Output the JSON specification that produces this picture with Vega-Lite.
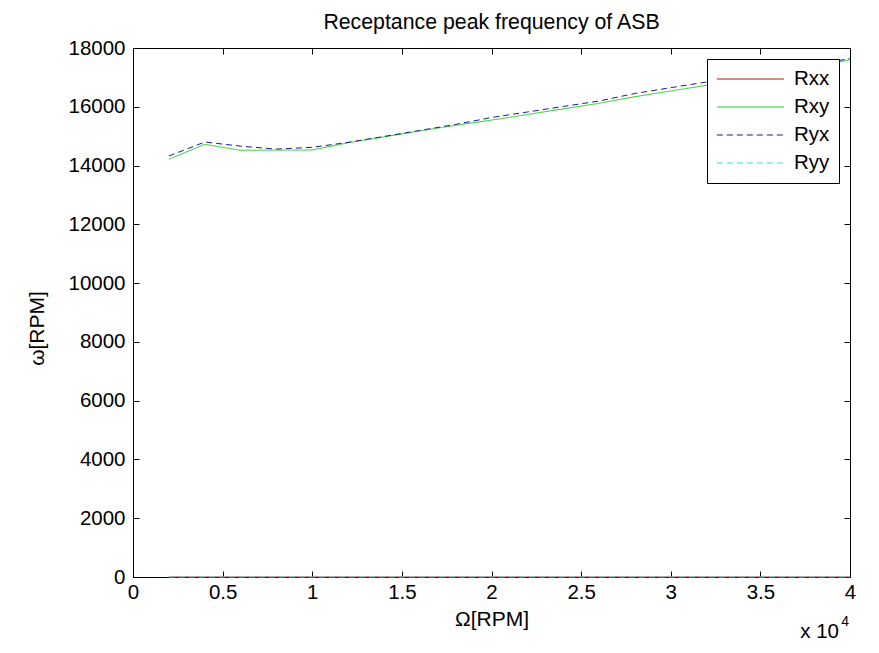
{
  "$schema": "https://vega.github.io/schema/vega-lite/v6.json",
  "width": 717,
  "height": 529,
  "autosize": {"type": "none"},
  "padding": {"left": 133, "top": 48, "right": 29, "bottom": 76},
  "background": "white",
  "title": {"text": "Receptance peak frequency of ASB", "font": "Liberation Sans", "fontSize": 21.3, "fontWeight": "normal", "color": "black", "offset": 5},
  "config": {
    "view": {"stroke": "black", "strokeWidth": 1},
    "axis": {
      "domainColor": "black",
      "tickColor": "black",
      "tickSize": -6,
      "grid": false,
      "labelFont": "Liberation Sans",
      "labelFontSize": 20.5,
      "labelColor": "black",
      "titleFont": "Liberation Sans",
      "titleFontSize": 21,
      "titleFontWeight": "normal",
      "titleColor": "black"
    },
    "legend": {
      "orient": "top-right",
      "offset": 11,
      "strokeColor": "black",
      "fillColor": "white",
      "padding": 9,
      "symbolType": "M-1,0H5.6",
      "symbolSize": 412,
      "symbolStrokeWidth": 1.2,
      "labelFont": "Liberation Sans",
      "labelFontSize": 20.5,
      "labelColor": "black",
      "labelOffset": 56,
      "rowPadding": 6
    }
  },
  "datasets": {
    "curves": [
      {"s": "Rxx", "x": 2000, "y": 0}, {"s": "Rxx", "x": 4000, "y": 0}, {"s": "Rxx", "x": 6000, "y": 0}, {"s": "Rxx", "x": 8000, "y": 0}, {"s": "Rxx", "x": 10000, "y": 0},
      {"s": "Rxx", "x": 12000, "y": 0}, {"s": "Rxx", "x": 14000, "y": 0}, {"s": "Rxx", "x": 16000, "y": 0}, {"s": "Rxx", "x": 18000, "y": 0}, {"s": "Rxx", "x": 20000, "y": 0},
      {"s": "Rxx", "x": 22000, "y": 0}, {"s": "Rxx", "x": 24000, "y": 0}, {"s": "Rxx", "x": 26000, "y": 0}, {"s": "Rxx", "x": 28000, "y": 0}, {"s": "Rxx", "x": 30000, "y": 0},
      {"s": "Rxx", "x": 32000, "y": 0}, {"s": "Rxx", "x": 34000, "y": 0}, {"s": "Rxx", "x": 36000, "y": 0}, {"s": "Rxx", "x": 38000, "y": 0}, {"s": "Rxx", "x": 40000, "y": 0},
      {"s": "Rxy", "x": 2000, "y": 14213}, {"s": "Rxy", "x": 4000, "y": 14723}, {"s": "Rxy", "x": 6000, "y": 14519}, {"s": "Rxy", "x": 8000, "y": 14525}, {"s": "Rxy", "x": 10000, "y": 14529},
      {"s": "Rxy", "x": 12000, "y": 14774}, {"s": "Rxy", "x": 14000, "y": 14975}, {"s": "Rxy", "x": 16000, "y": 15176}, {"s": "Rxy", "x": 18000, "y": 15370}, {"s": "Rxy", "x": 20000, "y": 15547},
      {"s": "Rxy", "x": 22000, "y": 15737}, {"s": "Rxy", "x": 24000, "y": 15928}, {"s": "Rxy", "x": 26000, "y": 16118}, {"s": "Rxy", "x": 28000, "y": 16343}, {"s": "Rxy", "x": 30000, "y": 16537},
      {"s": "Rxy", "x": 32000, "y": 16731}, {"s": "Rxy", "x": 34000, "y": 16930}, {"s": "Rxy", "x": 36000, "y": 17140}, {"s": "Rxy", "x": 38000, "y": 17360}, {"s": "Rxy", "x": 40000, "y": 17600},
      {"s": "Ryx", "x": 2000, "y": 14325}, {"s": "Ryx", "x": 4000, "y": 14800}, {"s": "Ryx", "x": 6000, "y": 14660}, {"s": "Ryx", "x": 8000, "y": 14560}, {"s": "Ryx", "x": 10000, "y": 14620},
      {"s": "Ryx", "x": 12000, "y": 14790}, {"s": "Ryx", "x": 14000, "y": 14990}, {"s": "Ryx", "x": 16000, "y": 15195}, {"s": "Ryx", "x": 18000, "y": 15400}, {"s": "Ryx", "x": 20000, "y": 15635},
      {"s": "Ryx", "x": 22000, "y": 15822}, {"s": "Ryx", "x": 24000, "y": 16010}, {"s": "Ryx", "x": 26000, "y": 16196}, {"s": "Ryx", "x": 28000, "y": 16452}, {"s": "Ryx", "x": 30000, "y": 16650},
      {"s": "Ryx", "x": 32000, "y": 16843}, {"s": "Ryx", "x": 34000, "y": 17030}, {"s": "Ryx", "x": 36000, "y": 17230}, {"s": "Ryx", "x": 38000, "y": 17430}, {"s": "Ryx", "x": 40000, "y": 17640},
      {"s": "Ryy", "x": 2000, "y": 0}, {"s": "Ryy", "x": 4000, "y": 0}, {"s": "Ryy", "x": 6000, "y": 0}, {"s": "Ryy", "x": 8000, "y": 0}, {"s": "Ryy", "x": 10000, "y": 0},
      {"s": "Ryy", "x": 12000, "y": 0}, {"s": "Ryy", "x": 14000, "y": 0}, {"s": "Ryy", "x": 16000, "y": 0}, {"s": "Ryy", "x": 18000, "y": 0}, {"s": "Ryy", "x": 20000, "y": 0},
      {"s": "Ryy", "x": 22000, "y": 0}, {"s": "Ryy", "x": 24000, "y": 0}, {"s": "Ryy", "x": 26000, "y": 0}, {"s": "Ryy", "x": 28000, "y": 0}, {"s": "Ryy", "x": 30000, "y": 0},
      {"s": "Ryy", "x": 32000, "y": 0}, {"s": "Ryy", "x": 34000, "y": 0}, {"s": "Ryy", "x": 36000, "y": 0}, {"s": "Ryy", "x": 38000, "y": 0}, {"s": "Ryy", "x": 40000, "y": 0}
    ],
    "note": [{"x": 40000, "y": -1870, "t": "x 10"}],
    "exp": [{"x": 40000, "y": -1530, "t": "4"}]
  },
  "layer": [
    {
      "data": {"name": "curves"},
      "mark": {"type": "line", "strokeWidth": 1, "clip": false},
      "encoding": {
        "x": {"field": "x", "type": "quantitative", "scale": {"domain": [0, 40000], "nice": false, "zero": false},
              "axis": {"orient": "bottom", "values": [0, 5000, 10000, 15000, 20000, 25000, 30000, 35000, 40000], "labelExpr": "datum.value / 10000", "title": "Ω[RPM]", "titlePadding": 6, "labelPadding": 11, "labelFlush": false}},
        "y": {"field": "y", "type": "quantitative", "scale": {"domain": [0, 18000], "nice": false, "zero": false},
              "axis": {"orient": "left", "values": [0, 2000, 4000, 6000, 8000, 10000, 12000, 14000, 16000, 18000], "format": "d", "title": "ω[RPM]", "titlePadding": 20, "titleY": 280, "labelPadding": 14}},
        "color": {"field": "s", "type": "nominal", "title": null,
                  "scale": {"domain": ["Rxx", "Rxy", "Ryx", "Ryy"], "range": ["#c01010", "#22d022", "#1a1a99", "#33dddd"]}},
        "strokeDash": {"field": "s", "type": "nominal", "title": null,
                  "scale": {"domain": ["Rxx", "Rxy", "Ryx", "Ryy"], "range": [[1, 0], [1, 0], [6, 4], [6, 4]]}}
      }
    },
    {
      "data": {"name": "curves"},
      "mark": {"type": "point", "opacity": 0},
      "encoding": {
        "x": {"field": "x", "type": "quantitative", "scale": {"domain": [0, 40000], "nice": false, "zero": false},
              "axis": {"orient": "top", "values": [0, 5000, 10000, 15000, 20000, 25000, 30000, 35000, 40000], "labels": false, "title": null}},
        "y": {"field": "y", "type": "quantitative", "scale": {"domain": [0, 18000], "nice": false, "zero": false},
              "axis": {"orient": "right", "values": [0, 2000, 4000, 6000, 8000, 10000, 12000, 14000, 16000, 18000], "labels": false, "title": null}}
      }
    },
    {
      "data": {"name": "note"},
      "mark": {"type": "text", "align": "right", "baseline": "middle", "dx": -11, "font": "Liberation Sans", "fontSize": 20.5, "color": "black", "clip": false},
      "encoding": {
        "x": {"field": "x", "type": "quantitative", "axis": null},
        "y": {"field": "y", "type": "quantitative", "axis": null},
        "text": {"field": "t"}
      }
    },
    {
      "data": {"name": "exp"},
      "mark": {"type": "text", "align": "right", "baseline": "middle", "dx": -1, "font": "Liberation Sans", "fontSize": 14, "color": "black", "clip": false},
      "encoding": {
        "x": {"field": "x", "type": "quantitative", "axis": null},
        "y": {"field": "y", "type": "quantitative", "axis": null},
        "text": {"field": "t"}
      }
    }
  ],
  "resolve": {"axis": {"x": "independent", "y": "independent"}}
}
